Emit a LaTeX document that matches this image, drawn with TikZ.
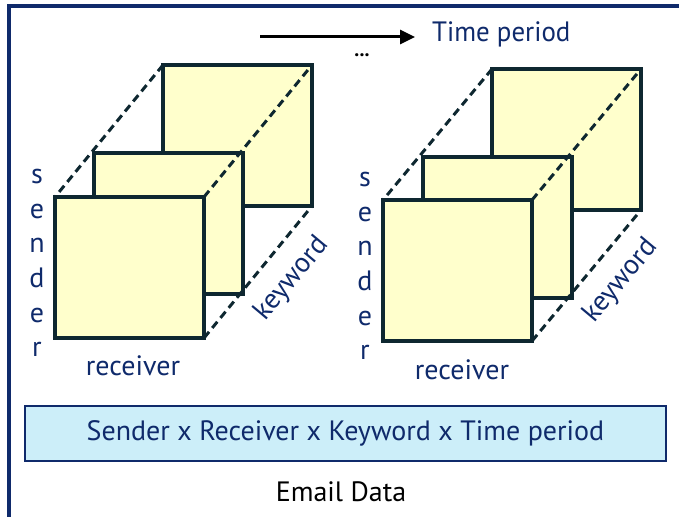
\documentclass[tikz,border=0pt]{standalone}
\usepackage{fontspec}
\setmainfont{PT Sans}
\usetikzlibrary{arrows.meta}
\definecolor{navy}{HTML}{0F2A6B}
\definecolor{edge}{HTML}{0E2730}
\definecolor{paper}{HTML}{FFFFCC}
\definecolor{boxfill}{HTML}{CCEEF9}
\tikzset{
  panel/.style={draw=edge, fill=paper, line width=3.6pt, minimum width=149pt, minimum height=141pt, inner sep=0pt, outer sep=0pt, anchor=north west},
  depth/.style={draw=edge, line width=3pt, dash pattern=on 8pt off 5pt},
  lbl/.style={text=navy, font=\fontsize{28}{34.6}\selectfont, inner sep=0pt},
  vert/.style={lbl, align=center},
}
\begin{document}
\begin{tikzpicture}[x=1pt,y=-1pt]
\useasboundingbox (0,0) rectangle (679,516);
% frame
\coordinate (fb) at (9,520);
\coordinate (fc) at (9,6);
\coordinate (fr) at (682,6);
\draw[navy, line width=4pt] (fb) -- (fc) -- (fr);
% left cube
\node[panel] (Lback) at (163,65) {};
\node[panel] (Lmid) at (94,153) {};
\draw[depth] (Lback.north west) -- (55,197);
\node[panel] (Lfront) at (55,197) {};
\draw[depth] (Lfront.north east) -- (Lback.north east);
\draw[depth] (Lfront.south east) -- (Lback.south east);
% right cube
\node[panel] (Rback) at (492,69) {};
\node[panel] (Rmid) at (423,157) {};
\draw[depth] (Rback.north west) -- (383,200);
\node[panel] (Rfront) at (383,200) {};
\draw[depth] (Rfront.north east) -- (Rback.north east);
\draw[depth] (Rfront.south east) -- (Rback.south east);
% labels
\node[vert] (Lsender) at (37,263) {s\\e\\n\\d\\e\\r};
\node[vert] (Rsender) at (365,266) {s\\e\\n\\d\\e\\r};
\node[lbl] (Lrecv) at (133,366) {receiver};
\node[lbl] (Rrecv) at (462,370) {receiver};
\node[lbl, rotate=50] (Lkey) at (292,279) {keyword};
\node[lbl, rotate=50] (Rkey) at (621,281) {keyword};
% time arrow
\coordinate (ta) at (260,37);
\node[lbl, anchor=west, xscale=0.96] (time) at (432,34) {Time period};
\draw[line width=3pt, -{Triangle[length=15pt,width=14pt]}] (ta) -- (415,37);
\node[font=\fontsize{20}{24}\selectfont\bfseries, inner sep=0pt] (dots) at (362,55) {...};
% bottom box
\node[draw=navy, fill=boxfill, line width=2.4pt, minimum width=641pt, minimum height=55pt, inner sep=0pt, text=navy, font=\fontsize{28}{34}\selectfont] (dims) at (345.5,433.5) {Sender x Receiver x Keyword x Time period};
\node[font=\fontsize{28}{34}\selectfont, inner sep=0pt] (email) at (341,492) {Email Data};
\end{tikzpicture}
\end{document}
